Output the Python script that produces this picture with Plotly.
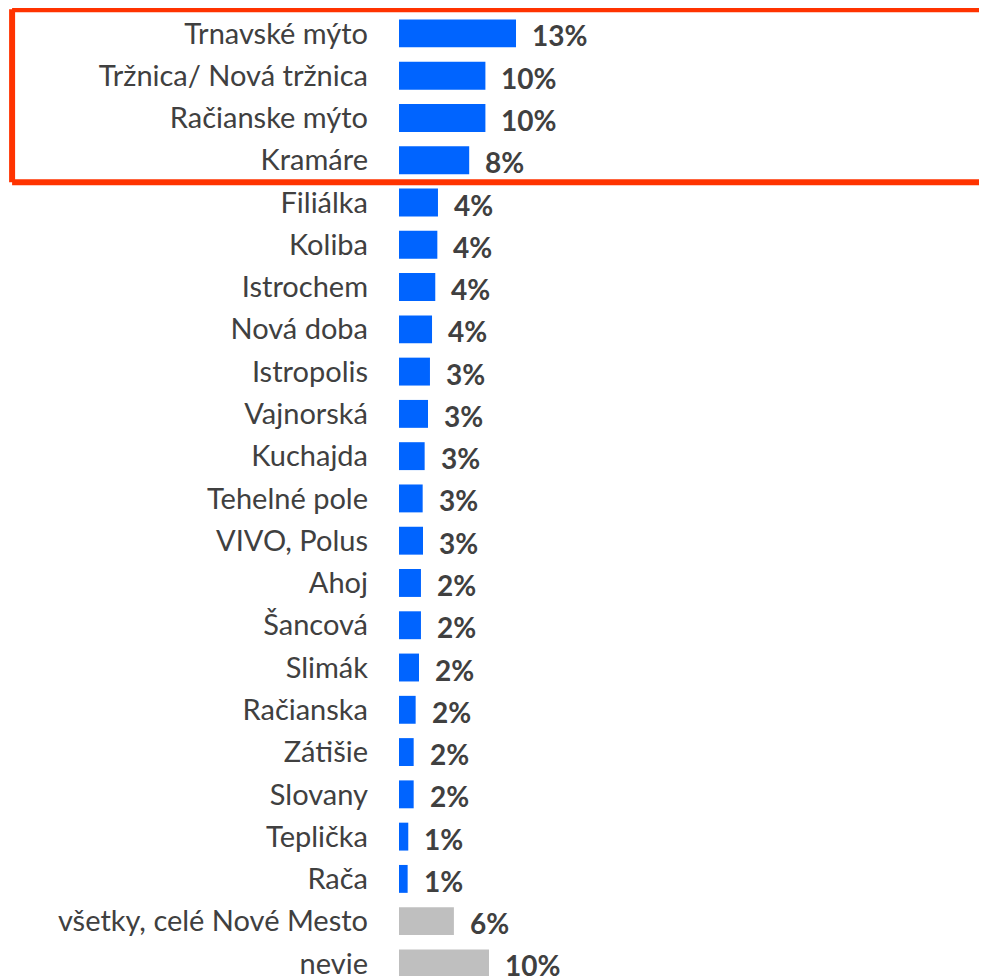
import plotly.graph_objects as go

categories = ["Trnavské mýto", "Tržnica/ Nová tržnica", "Račianske mýto", "Kramáre",
              "Filiálka", "Koliba", "Istrochem", "Nová doba", "Istropolis", "Vajnorská",
              "Kuchajda", "Tehelné pole", "VIVO, Polus", "Ahoj", "Šancová", "Slimák",
              "Račianska", "Zátišie", "Slovany", "Teplička", "Rača",
              "všetky, celé Nové Mesto", "nevie"]
values = [13.0, 9.6, 9.6, 7.8,
          4.33, 4.26, 4.03, 3.67, 3.44, 3.22,
          2.85, 2.63, 2.67, 2.44, 2.44, 2.22,
          1.85, 1.63, 1.63, 1.03, 0.96,
          6.1, 10.0]
value_labels = ["13%", "10%", "10%", "8%",
                "4%", "4%", "4%", "4%", "3%", "3%",
                "3%", "3%", "3%", "2%", "2%", "2%",
                "2%", "2%", "2%", "1%", "1%",
                "6%", "10%"]
groups = ["loc"] * 21 + ["other", "other"]

BLUE = "#0064FF"
GRAY = "#BFBFBF"
TEXT = "#404040"
RED = "#FF3300"
colors = [BLUE if g == "loc" else GRAY for g in groups]

fig = go.Figure()
fig.add_trace(go.Bar(
    x=values, y=categories, orientation="h",
    marker=dict(color=colors, line=dict(width=0)),
    hoverinfo="skip", showlegend=False,
))

for c, v, t in zip(categories, values, value_labels):
    fig.add_annotation(
        x=v, y=c, xref="x", yref="y", text=f"<b>{t}</b>",
        showarrow=False, xanchor="left", yanchor="middle",
        xshift=14, yshift=-2,
        font=dict(family="Lato", size=28, color=TEXT),
    )

# highlight box around the top four rows (open to the right, runs off the edge)
box_left, box_right = -0.658, 1.3
box_top, box_bottom = -0.57, 3.52
for x0, x1, y0, y1 in [(box_left, box_right, box_top, box_top),
                       (box_left, box_right, box_bottom, box_bottom),
                       (box_left, box_left, box_top, box_bottom)]:
    fig.add_shape(type="line", xref="paper", yref="y",
                  x0=x0, x1=x1, y0=y0, y1=y1,
                  line=dict(color=RED, width=6), layer="above")

fig.update_layout(
    width=979, height=972,
    margin=dict(l=391, r=0, t=0, b=0),
    paper_bgcolor="white", plot_bgcolor="white",
    bargap=0.34,
    xaxis=dict(range=[0, 65.33], visible=False),
    yaxis=dict(
        type="category", range=[22.297, -0.601],
        showgrid=False, zeroline=False, showline=False,
        ticks="", ticklabelstandoff=30,
        tickfont=dict(family="Lato", size=29, color=TEXT),
    ),
)

fig.write_html("out.html")
